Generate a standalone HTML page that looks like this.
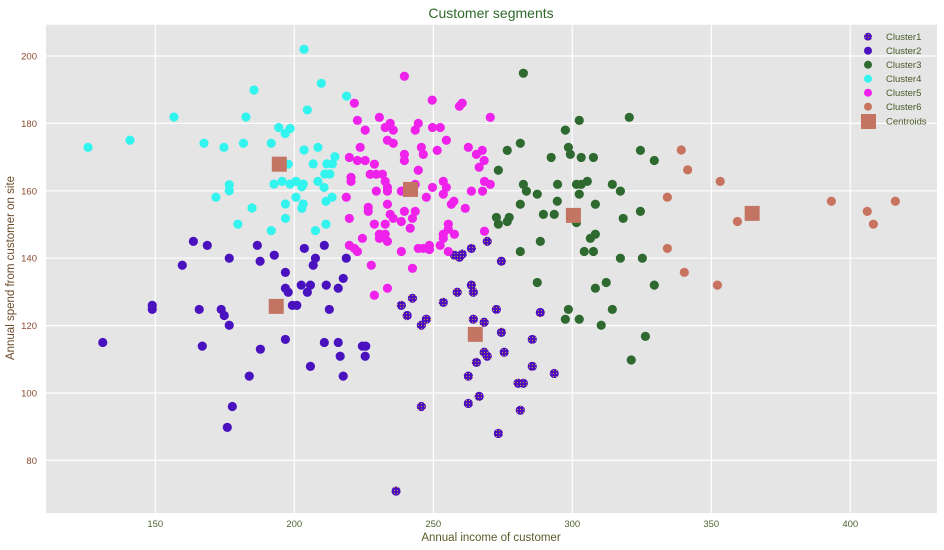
<!DOCTYPE html>
<html><head><meta charset="utf-8"><style>
body{margin:0;background:#fff;width:944px;height:550px;overflow:hidden}
svg{display:block;font-family:"Liberation Sans",sans-serif}
</style></head><body>
<svg id="chart" width="944" height="550" viewBox="0 0 944 550" xmlns="http://www.w3.org/2000/svg">
<defs>
<pattern id="hatch1" width="3" height="3" patternUnits="userSpaceOnUse">
<rect width="3" height="3" fill="#4a12bf"/><rect x="1" y="1" width="1" height="1" fill="#e08a40"/>
</pattern>
</defs>
<rect x="46" y="24.7" width="891" height="488.3" fill="#e5e5e5"/>
<g id="grid"></g>
<g id="marks"></g>
<g id="ticks"></g>
<text x="491" y="18" text-anchor="middle" font-size="14" fill="#2f6a2a">Customer segments</text>
<text x="491" y="541" text-anchor="middle" font-size="11.5" fill="#5c5a2a">Annual income of customer</text>
<text transform="translate(14,268) rotate(-90)" text-anchor="middle" font-size="11.5" fill="#6a4a2a">Annual spend from customer on site</text>
<g id="legend"></g>
</svg>
<script>
const xTicks=[150,200,250,300,350,400];
const yTicks=[80,100,120,140,160,180,200];
const seriesNames=["Cluster1","Cluster2","Cluster3","Cluster4","Cluster5","Cluster6"];
const seriesColors=["url(#hatch1)","#4a12bf","#2e6a30","#33f3ee","#ee22ea","#c8735f"];
const cluster1X=[269.4,263.7,257.6,259.4,260.4,274.5,263.7,264.4,258.6,253.6,242.5,238.5,240.6,247.5,245.7,272.7,288.5,264.4,268.3,274.5,285.6,268.3,269.4,275.5,265.5,285.6,293.5,262.6,280.5,282.4,266.5,262.6,245.7,281.3,273.4,236.6];
const cluster1Y=[145,142.9,140.9,140.3,141.2,139.1,132,129.9,129.9,126.9,128.1,126,123,121.9,120.1,124.8,123.9,121.9,121,118,115.9,112.1,110.9,112.1,109.1,107.9,105.8,105,102.9,102.9,99,96.9,96,94.9,88,70.9];
const cluster2X=[163.7,168.7,186.7,176.6,187.7,192.8,159.7,196.8,203.6,210.8,207.6,206.8,218.7,217.6,215.8,211.5,205.8,202.5,204.7,196.8,197.8,199.3,200.9,212.6,148.9,148.9,165.8,173.7,174.8,176.6,131.1,166.9,187.8,196.8,210.8,215.8,224.5,225.7,216.5,225.5,205.8,183.8,217.6,177.7,175.9];
const cluster2Y=[145,143.8,143.8,140,139.1,140.9,137.9,135.8,142.9,143.8,140,137.9,140,134,131.1,132,132,132,129.9,131.1,129.9,126,126,124.8,126,124.8,124.8,124.8,123,120.1,115,113.9,113,115.9,115,115,113.9,113.9,110.9,110.9,107.9,105,105,96,89.8];
const cluster3X=[282.4,302.5,320.5,297.5,281.3,276.6,298.6,299.3,292.4,303.2,307.6,324.5,329.5,273.4,282.4,283.5,287.4,294.7,301.5,303.2,305.4,302.5,314.4,317.3,281.3,294.6,308.3,289.6,293.5,324.5,318.3,272.7,273.4,276.6,277.3,301.5,308.3,306.5,288.5,281.3,304.3,307.6,317.3,325.2,287.4,312.2,308.3,329.5,298.6,314.4,297.5,302.5,310.4,326.3,321.2];
const cluster3Y=[194.9,180.9,181.8,178,174.1,172,172.9,170.8,169.9,169.9,169.9,172,169,166.1,161.9,159.9,159,161.9,161.9,161.9,162.8,159,161.9,159.9,156,156.9,156,153,153,153.9,151.8,152.1,150.1,150.9,152.1,150.6,147.1,145.9,145,142,142,142,140,140,132.8,132.8,131.1,132,124.8,124.8,121.9,121.9,120.1,116.8,109.8];
const cluster4X=[203.5,209.7,185.5,204.7,156.7,182.6,194.4,198.5,196.7,125.8,140.9,167.5,174.7,181.7,191.7,203.5,208.5,214.6,197.8,206.8,211.7,213.7,211,212.8,195.6,192.7,198.5,200.6,203.2,202.7,208.5,210.7,176.6,176.6,171.8,200.6,211.4,213.6,196.8,203.2,202.7,184.8,196.8,179.7,191.7,207.6,211.4,218.8];
const cluster4Y=[202,191.9,189.9,184,181.9,181.9,178.8,178.5,177,172.9,175,174.1,172.9,174.1,174.1,172.1,172.9,170.1,167.9,168,168,168,165,165,162.8,162,162,162.8,162,161.2,162.8,161,161.8,160,158.1,158.1,156.9,158.1,156.1,156.1,154.8,154.9,151.8,150.1,148.2,148.2,150.1,188.1];
const cluster5X=[239.6,221.6,249.6,260.4,259.4,270.5,222.7,230.6,234.5,232.7,235.6,225.5,244.6,243.5,249.7,252.5,254.7,233.5,235.6,223.7,245.7,246.4,251.4,262.6,267.6,265.5,268.3,266.5,219.8,222.7,225.5,228.8,239.6,239.6,244.6,220.4,220.4,227.3,229.5,231.7,232.7,233.5,233.5,229.5,218.7,243.5,238.5,247.5,249.7,253.6,254.7,253.6,263.7,267.7,268.4,270.5,257.4,256.5,261.5,233.5,226.6,226.6,219.8,234.5,235.6,239.6,243.5,242.5,238.5,228.8,232.7,241.7,255.4,255.4,253.6,253.6,257.6,268.4,224.5,230.6,230.6,232.7,233.5,219.8,221.6,222.7,238.5,244.6,246.4,248.6,248.6,252.5,255.4,227.7,242.5,233.5,228.8];
const cluster5Y=[194,186,186.9,186,185.1,181.8,180.9,181.8,180,178.8,178,178,180,178,178.8,178.8,175,175,174.1,172.9,172.9,170.8,172,172.9,172,170.8,169,167,169.9,169,169,167.9,170.8,169,166.1,164,162.8,164.9,164.9,164.9,162.8,161,159.9,159.9,158.1,161.9,159.9,158.1,161,162.8,161,159,159.9,159.9,162.8,161.9,156.9,156,154.8,156,155.1,153.9,151.8,153,151.8,153.9,153.9,151.8,150.9,150.1,150.1,148.9,150.1,148.6,147.1,145.9,147.1,148,145.9,147.1,145.9,147.1,145,143.8,142.9,142,142,142.9,142.9,143.8,142.6,143.8,142,137.9,137,131.1,129];
const cluster6X=[339.2,341.5,353.2,334.2,393.2,416.2,406.1,408.3,359.4,334.2,340.3,352.2];
const cluster6Y=[172.1,166.2,162.8,158.1,156.9,156.9,153.9,150.1,150.9,142.9,135.8,132];
const centroidX=[194.6,241.8,193.5,265.1,300.4,364.7];
const centroidY=[167.9,160.4,125.7,117.4,152.7,153.3];

const NS="http://www.w3.org/2000/svg";
const L=46,R=937,T=24.7,B=513;
function sx(v){return 155.3+(v-150)*2.78;}
function sy(v){return 56+(200-v)*3.37;}
function mk(tag,attrs,parent){const e=document.createElementNS(NS,tag);for(const k in attrs)e.setAttribute(k,attrs[k]);parent.appendChild(e);return e;}
const grid=document.getElementById('grid'),ticks=document.getElementById('ticks'),marks=document.getElementById('marks'),legend=document.getElementById('legend');
xTicks.forEach(t=>{
  const l=mk('line',{x1:sx(t),x2:sx(t),y1:T,y2:B,stroke:'#fff','stroke-width':1.2},grid);
  
  
  const tx=mk('text',{x:sx(t),y:527,'text-anchor':'middle','font-size':9.5,fill:'#4e6230'},ticks);
  tx.textContent=t;
  
  
});
yTicks.forEach(t=>{
  const l=mk('line',{x1:L,x2:R,y1:sy(t),y2:sy(t),stroke:'#fff','stroke-width':1.2},grid);
  
  
  const tx=mk('text',{x:37,y:sy(t)+3.5,'text-anchor':'end','font-size':9.5,fill:'#8a4a30'},ticks);
  tx.textContent=t;
  
  
});
const allX=[cluster1X,cluster2X,cluster3X,cluster4X,cluster5X,cluster6X];
const allY=[cluster1Y,cluster2Y,cluster3Y,cluster4Y,cluster5Y,cluster6Y];
allX.forEach((xs,i)=>{
  const g=mk('g',{},marks);
  
  
  xs.forEach((x,j)=>{
    const c=mk('circle',{cx:sx(x),cy:sy(allY[i][j]),r:4.6,fill:seriesColors[i]},g);
    
    
  });
});
centroidX.forEach((x,i)=>{
  const r=mk('rect',{x:sx(x)-7.5,y:sy(centroidY[i])-7.5,width:15,height:15,fill:'#c47463'},marks);
  
  
});
const legY=[36.7,50.7,64.7,78.7,92.7,106.7];
seriesNames.forEach((n,i)=>{
  const c=mk('circle',{cx:868,cy:legY[i],r:4,fill:seriesColors[i]},legend);
  
  
  const t=mk('text',{x:886,y:legY[i]+3.5,'font-size':9.5,fill:'#4a5a2a'},legend);
  t.textContent=n;
  
  
});
const lr=mk('rect',{x:861,y:114,width:15,height:15,fill:'#c47463'},legend);


const lt=mk('text',{x:886,y:124.5,'font-size':9.5,fill:'#4a5a2a'},legend);
lt.textContent='Centroids';


</script>
</body></html>
